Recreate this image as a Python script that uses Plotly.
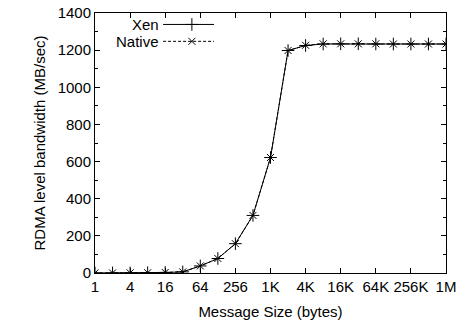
import plotly.graph_objects as go
import math

sizes = [2**i for i in range(21)]
tick_vals = [1, 4, 16, 64, 256, 1024, 4096, 16384, 65536, 262144, 1048576]
tick_text = ["1", "4", "16", "64", "256", "1K", "4K", "16K", "64K", "256K", "1M"]
xen = [0.2, 0.4, 0.8, 1.5, 3, 6, 38, 78, 158, 310, 622, 1198, 1225, 1233, 1234, 1234, 1233, 1233, 1233, 1233, 1233]
native = [0.2, 0.4, 0.8, 1.5, 3, 6, 38, 78, 158, 310, 622, 1198, 1226, 1234, 1234, 1234, 1234, 1233, 1233, 1233, 1233]

FONT = "Liberation Sans, Arial, sans-serif"
FS = 15

fig = go.Figure()
fig.add_trace(go.Scatter(x=sizes, y=xen, mode="lines+markers", name="Xen",
                         line=dict(color="black", width=1),
                         marker=dict(symbol="cross-thin", size=9, line=dict(color="black", width=1))))
fig.add_trace(go.Scatter(x=sizes, y=native, mode="lines+markers", name="Native",
                         line=dict(color="black", width=1, dash="3px,2px"),
                         marker=dict(symbol="x-thin", size=7, line=dict(color="black", width=1))))

# gnuplot-style key: text on left, sample on right (drawn on an overlay 0..1 axis)
key_y = [0.956, 0.891]
key_x0, key_x1, key_xm = 0.194, 0.339, 0.276
fig.add_trace(go.Scatter(x=[key_x0, key_x1], y=[key_y[0]] * 2, xaxis="x2", yaxis="y2",
                         mode="lines", line=dict(color="black", width=1), showlegend=False, hoverinfo="skip"))
fig.add_trace(go.Scatter(x=[key_xm], y=[key_y[0]], xaxis="x2", yaxis="y2", mode="markers",
                         marker=dict(symbol="cross-thin", size=9, line=dict(color="black", width=1)),
                         showlegend=False, hoverinfo="skip"))
fig.add_trace(go.Scatter(x=[key_x0, key_x1], y=[key_y[1]] * 2, xaxis="x2", yaxis="y2",
                         mode="lines", line=dict(color="black", width=1, dash="3px,2px"), showlegend=False, hoverinfo="skip"))
fig.add_trace(go.Scatter(x=[key_xm], y=[key_y[1]], xaxis="x2", yaxis="y2", mode="markers",
                         marker=dict(symbol="x-thin", size=7, line=dict(color="black", width=1)),
                         showlegend=False, hoverinfo="skip"))
for name, yy in zip(["Xen", "Native"], key_y):
    fig.add_annotation(x=0.182, y=yy, xref="paper", yref="paper", text=name, showarrow=False,
                       xanchor="right", yanchor="middle", xshift=2,
                       font=dict(family=FONT, size=FS, color="black"))

fig.update_layout(
    width=457, height=324,
    margin=dict(l=95, r=11, t=13, b=51),
    plot_bgcolor="white", paper_bgcolor="white",
    showlegend=False,
    font=dict(family=FONT, size=FS, color="black"),
    xaxis=dict(type="log", range=[0, math.log10(2**20)], tickvals=tick_vals, ticktext=tick_text,
               ticks="inside", ticklen=5, tickcolor="black", showline=True, linecolor="black", linewidth=1,
               mirror="ticks", showgrid=False, zeroline=False, ticklabeloverflow="allow", automargin=False,
               title=dict(text="Message Size (bytes)", standoff=12, font=dict(size=FS))),
    yaxis=dict(range=[0, 1400], dtick=200, ticks="inside", ticklen=5, tickcolor="black",
               showline=True, linecolor="black", linewidth=1, mirror="ticks", showgrid=False, zeroline=False,
               ticklabeloverflow="allow", automargin=False,
               minor=dict(dtick=100, ticks="inside", ticklen=3, tickcolor="black", showgrid=False),
               title=dict(text="RDMA level bandwidth (MB/sec)", standoff=8, font=dict(size=FS))),
    xaxis2=dict(overlaying="x", range=[0, 1], visible=False, fixedrange=True),
    yaxis2=dict(overlaying="y", range=[0, 1], visible=False, fixedrange=True),
)

fig.write_html("out.html", config={"displayModeBar": False},
               post_script="document.body.style.margin='0';document.body.style.padding='0';")
